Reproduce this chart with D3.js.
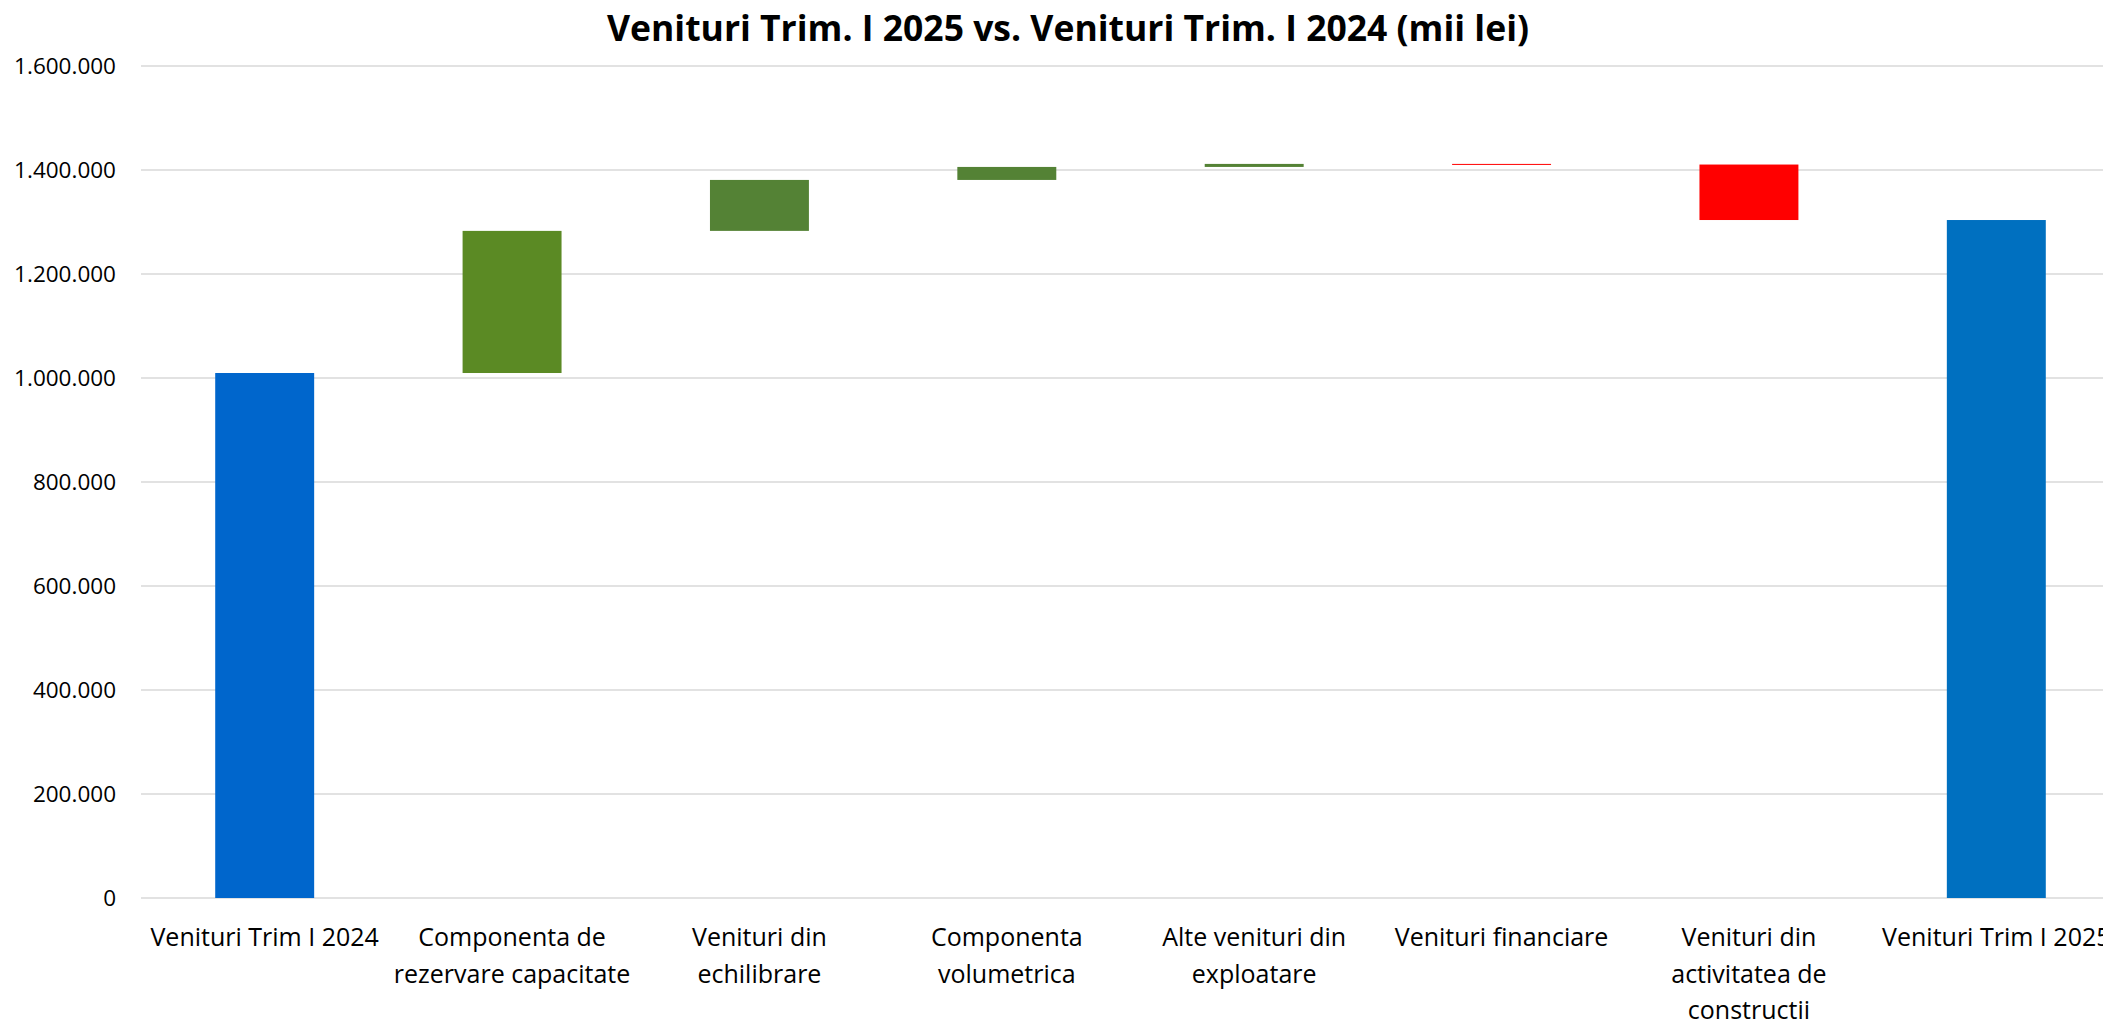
<!DOCTYPE html>
<html>
<head>
<meta charset="utf-8">
<script src="https://cdn.jsdelivr.net/npm/d3@7"></script>
<style>
  html, body { margin: 0; padding: 0; background: #fff; }
  svg { display: block; }
</style>
</head>
<body>
<script>
// ---- data ----
const title = "Venituri Trim. I 2025 vs. Venituri Trim. I 2024 (mii lei)";
const categories = [
  "Venituri Trim I 2024",
  "Componenta de\nrezervare capacitate",
  "Venituri din\nechilibrare",
  "Componenta\nvolumetrica",
  "Alte venituri din\nexploatare",
  "Venituri financiare",
  "Venituri din\nactivitatea de\nconstructii",
  "Venituri Trim I 2025"
];
const values = [1009600, 273300, 98000, 25000, 5800, -1200, -106700, 1303800];
const kinds = ["total", "change", "change", "change", "change", "change", "change", "total"];
const barColors = ["#0066CC", "#5B8A24", "#548235", "#548235", "#548235", "#FF0000", "#FF0000", "#0070C0"];
const yTicks = [0, 200000, 400000, 600000, 800000, 1000000, 1200000, 1400000, 1600000];

// ---- layout ----
const W = 2103, H = 1020;
const plotLeft = 141, plotRight = 2120, plotTop = 66, plotBottom = 898;

const svg = d3.select("body").append("svg")
  .attr("width", W).attr("height", H);

const x = d3.scaleBand().domain(categories).range([plotLeft, plotRight])
  .paddingInner(0.6).paddingOuter(0.3);
const y = d3.scaleLinear().domain([0, 1600000]).range([plotBottom, plotTop]);

const fmt = d3.formatLocale({decimal: ",", thousands: ".", grouping: [3], currency: ["", ""]}).format(",");

// gridlines
svg.append("g").selectAll("line").data(yTicks).join("line")
  .attr("x1", plotLeft).attr("x2", plotRight)
  .attr("y1", d => y(d)).attr("y2", d => y(d))
  .attr("stroke", "#d9d9d9").attr("stroke-width", 1.5);

// y axis labels
const yAxis = d3.axisLeft(y).tickValues(yTicks).tickFormat(fmt).tickSize(0).tickPadding(0);
const gy = svg.append("g").attr("transform", "translate(116,0)").call(yAxis);
gy.select(".domain").remove();
gy.selectAll("text")
  .attr("font-family", "'Open Sans', 'Noto Sans', sans-serif")
  .attr("font-size", 22.5).attr("fill", "#000");

// waterfall computation
let running = 0;
const bars = values.map((v, i) => {
  let y0, y1;
  if (kinds[i] === "total") { y0 = 0; y1 = v; running = v; }
  else { y0 = running; y1 = running + v; running = y1; }
  return {cat: categories[i], lo: Math.min(y0, y1), hi: Math.max(y0, y1), color: barColors[i]};
});

svg.append("g").selectAll("rect").data(bars).join("rect")
  .attr("x", d => x(d.cat))
  .attr("width", x.bandwidth())
  .attr("y", d => y(d.hi))
  .attr("height", d => Math.max(1, y(d.lo) - y(d.hi)))
  .attr("fill", d => d.color);

// x axis labels
const gx = svg.append("g");
categories.forEach(c => {
  const lines = c.split("\n");
  const cx = x(c) + x.bandwidth() / 2;
  const t = gx.append("text")
    .attr("x", cx)
    .attr("y", 946)
    .attr("text-anchor", "middle")
    .attr("font-family", "'Open Sans', 'Noto Sans', sans-serif")
    .attr("font-size", 25).attr("fill", "#000");
  lines.forEach((l, i) => {
    t.append("tspan").attr("x", cx)
      .attr("dy", i === 0 ? 0 : 36.5).text(l);
  });
});

// title
svg.append("text")
  .attr("x", 1068).attr("y", 41)
  .attr("text-anchor", "middle")
  .attr("font-family", "'Open Sans', 'Noto Sans', sans-serif")
  .attr("font-weight", "bold")
  .attr("font-size", 35.5).attr("fill", "#000")
  .text(title);
</script>
</body>
</html>
